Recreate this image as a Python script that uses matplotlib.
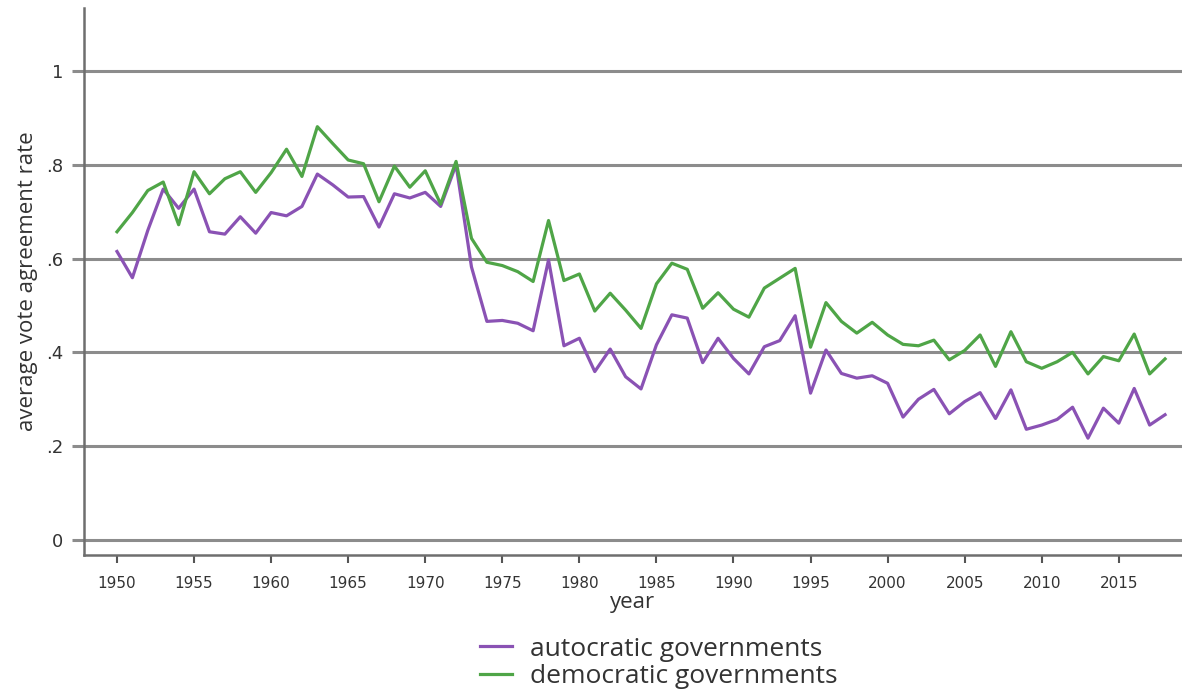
import matplotlib
matplotlib.use("Agg")
import matplotlib.pyplot as plt
from matplotlib.lines import Line2D

years = list(range(1950, 2019))

autocratic = [
    0.615, 0.559, 0.660, 0.748, 0.707, 0.748, 0.657, 0.652, 0.689, 0.654,
    0.698, 0.691, 0.711, 0.780, 0.757, 0.731, 0.732, 0.667, 0.738, 0.729,
    0.741, 0.711, 0.800, 0.582, 0.466, 0.468, 0.462, 0.446, 0.597, 0.414,
    0.430, 0.359, 0.407, 0.348, 0.322, 0.416, 0.480, 0.473, 0.378, 0.430,
    0.387, 0.354, 0.412, 0.425, 0.478, 0.313, 0.405, 0.355, 0.345, 0.350,
    0.334, 0.262, 0.300, 0.321, 0.269, 0.295, 0.314, 0.259, 0.320, 0.236,
    0.245, 0.257, 0.283, 0.217, 0.281, 0.249, 0.323, 0.245, 0.267,
]

democratic = [
    0.657, 0.698, 0.745, 0.763, 0.672, 0.785, 0.738, 0.770, 0.785, 0.741,
    0.783, 0.833, 0.775, 0.881, 0.845, 0.810, 0.802, 0.721, 0.797, 0.752,
    0.787, 0.716, 0.807, 0.643, 0.592, 0.585, 0.572, 0.551, 0.681, 0.553,
    0.567, 0.488, 0.526, 0.490, 0.451, 0.546, 0.590, 0.577, 0.494, 0.527,
    0.492, 0.475, 0.537, 0.558, 0.579, 0.411, 0.506, 0.466, 0.441, 0.464,
    0.437, 0.417, 0.414, 0.426, 0.384, 0.404, 0.437, 0.370, 0.444, 0.380,
    0.366, 0.380, 0.400, 0.354, 0.391, 0.382, 0.439, 0.354, 0.386,
]

series_labels = ["autocratic governments", "democratic governments"]
y_ticks = [0, 0.2, 0.4, 0.6, 0.8, 1.0]
y_ticklabels = ["0", ".2", ".4", ".6", ".8", "1"]
x_ticks = list(range(1950, 2016, 5))

purple = "#8a52b4"
green = "#4fa547"
grid_gray = "#8c8c8c"
text_gray = "#333333"

fig = plt.figure(figsize=(11.82, 6.93), dpi=100)
ax = fig.add_axes([84 / 1182, 138 / 693, 1 - 84 / 1182, (555 - 8) / 693])

ax.set_xlim(1947.86, 2019.1)
ax.set_ylim(-0.032, 1.134)

for v in y_ticks:
    ax.axhline(v, color=grid_gray, lw=2.2, zorder=1)

ax.plot(years, autocratic, color=purple, lw=2.3, zorder=3)
ax.plot(years, democratic, color=green, lw=2.3, zorder=3)

for side in ("top", "right"):
    ax.spines[side].set_visible(False)
for side in ("left", "bottom"):
    ax.spines[side].set_color("#6e6e6e")
    ax.spines[side].set_linewidth(1.8)

ax.set_yticks(y_ticks)
ax.set_yticklabels(y_ticklabels, fontsize=13, color=text_gray, family="DejaVu Sans")
ax.tick_params(axis="y", length=9, width=2.2, color=grid_gray, pad=6)

ax.set_xticks(x_ticks)
ax.set_xticklabels([str(x) for x in x_ticks], fontsize=11, color=text_gray, family="DejaVu Sans")
ax.tick_params(axis="x", length=6, width=1.5, color="#555555", pad=9)

ax.set_xlabel("year", fontsize=16, color=text_gray, family="Open Sans", labelpad=1)
ax.set_ylabel("average vote agreement rate", fontsize=16, color=text_gray, family="Open Sans", labelpad=6)

handles = [Line2D([0], [0], color=purple, lw=2.3), Line2D([0], [0], color=green, lw=2.3)]
fig.legend(handles, series_labels, loc="center", bbox_to_anchor=(659 / 1182, 1 - 663 / 693),
           frameon=False, handlelength=1.2, handletextpad=0.7,
           labelspacing=0.1, prop={"family": "Open Sans", "size": 19}, labelcolor=text_gray,
           borderpad=0)

fig.savefig("out.png", dpi=100)
